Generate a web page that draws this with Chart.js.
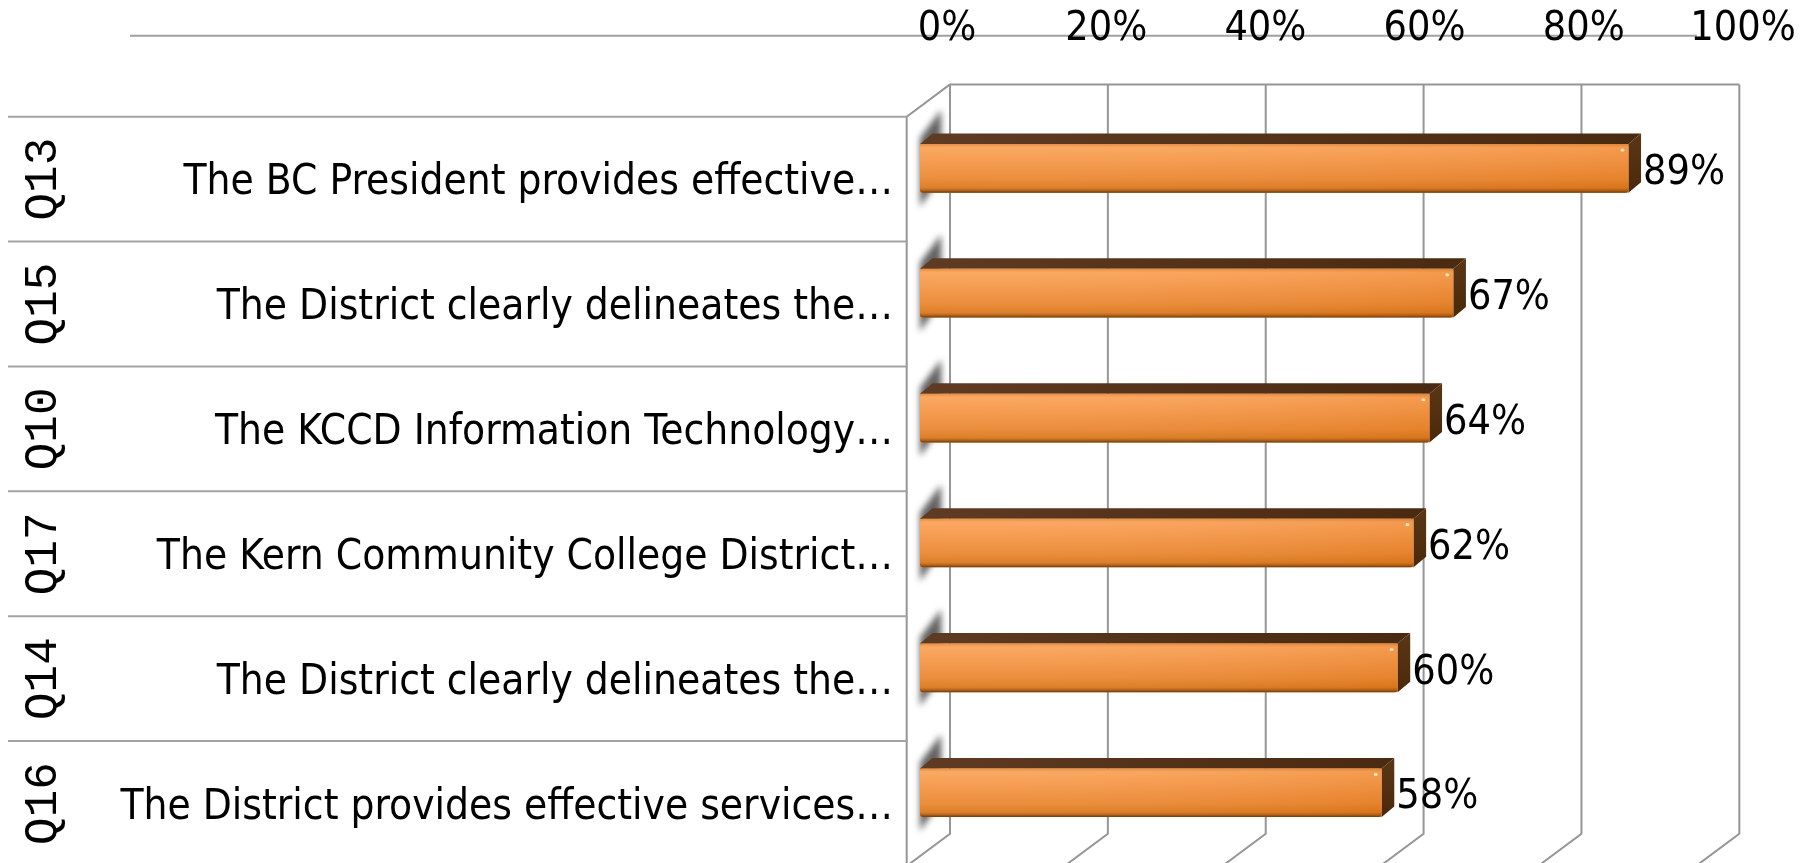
<!DOCTYPE html>
<html><head><meta charset="utf-8">
<script src="https://cdn.jsdelivr.net/npm/chart.js@4.4.1/dist/chart.umd.min.js"></script>
<style>html,body{margin:0;padding:0;background:#fff;} canvas{display:block;}</style>
</head><body>
<canvas id="c" width="1810" height="863"></canvas>
<script>
const codes = ['Q13', 'Q15', 'Q10', 'Q17', 'Q14', 'Q16'];
const categories = [
  'The BC President provides effective\u2026',
  'The District clearly delineates the\u2026',
  'The KCCD Information Technology\u2026',
  'The Kern Community College District\u2026',
  'The District clearly delineates the\u2026',
  'The District provides effective services\u2026'
];
const values = [89, 67, 64, 62, 60, 58];
const tickValues = [0, 20, 40, 60, 80, 100];

const SANS = '"DejaVu Sans Condensed", "DejaVu Sans", sans-serif';
const MONO = '"Liberation Mono", "DejaVu Sans Mono", monospace';
const GRID = '#969696';
const BAR_DX = 12.6, BAR_DY = -10.5;      // bar depth
const WALL_DX = 30, WALL_DY = -21.5;      // bar plane -> back wall
const FRONT_DX = -13.3, FRONT_DY = 10.8;  // bar plane -> front plane

function barGeom(el) {
  const p = el.getProps(['x', 'y', 'base', 'height'], true);
  return { base: p.base, right: p.x, top: p.y - p.height / 2, bottom: p.y + p.height / 2, cy: p.y };
}

const decor = {
  id: 'decor',
  beforeDraw(chart) {
    const { ctx, chartArea: a, scales: { x, y } } = chart;
    const backX = v => a.left + WALL_DX + (x.getPixelForValue(v) - a.left) * 0.9916;
    const backTop = a.top + WALL_DY, backBot = a.bottom + WALL_DY;
    const frontLeft = a.left + FRONT_DX, frontTop = a.top + FRONT_DY;
    ctx.save();
    ctx.fillStyle = '#fff'; ctx.fillRect(0, 0, chart.width, chart.height);
    // top axis line
    ctx.strokeStyle = '#a0a0a0'; ctx.lineWidth = 2;
    ctx.beginPath(); ctx.moveTo(130, 35.7); ctx.lineTo(1697, 35.7); ctx.stroke();
    // back wall + floor lines
    ctx.strokeStyle = GRID; ctx.lineWidth = 2;
    ctx.beginPath();
    ctx.moveTo(backX(0), backTop); ctx.lineTo(backX(100), backTop);
    tickValues.forEach(v => {
      const bx = backX(v);
      ctx.moveTo(bx, backTop); ctx.lineTo(bx, backBot);
      ctx.lineTo(bx - (WALL_DX - FRONT_DX), backBot + (FRONT_DY - WALL_DY));
    });
    // side wall
    ctx.moveTo(backX(0), backTop); ctx.lineTo(frontLeft, frontTop); ctx.lineTo(frontLeft, chart.height + 5);
    ctx.stroke();
    // row separators
    ctx.strokeStyle = '#a3a3a3';
    ctx.beginPath();
    for (let i = 0; i <= categories.length; i++) {
      const yy = y.getPixelForValue(i - 0.5) + FRONT_DY;
      ctx.moveTo(8, yy); ctx.lineTo(frontLeft, yy);
    }
    ctx.stroke();
    // outer category codes
    ctx.fillStyle = '#000'; ctx.font = '46px ' + MONO;
    ctx.textAlign = 'center'; ctx.textBaseline = 'middle';
    codes.forEach((c, i) => {
      const yy = y.getPixelForValue(i) + FRONT_DY;
      ctx.save(); ctx.translate(44, yy); ctx.rotate(-Math.PI / 2); ctx.fillText(c, 0, 0); ctx.restore();
    });
    ctx.restore();
  },
  beforeDatasetsDraw(chart) {
    const { ctx } = chart;
    const meta = chart.getDatasetMeta(0);
    ctx.save();
    ctx.filter = 'blur(3px)';
    ctx.fillStyle = 'rgba(70,70,70,0.85)';
    meta.data.forEach(el => {
      const g = barGeom(el);
      ctx.beginPath();
      ctx.moveTo(g.base + 0, g.top - 6);
      ctx.lineTo(g.base + 21, g.top - 34);
      ctx.lineTo(g.base + 22, g.bottom - 18);
      ctx.lineTo(g.base + 0, g.bottom + 14);
      ctx.closePath(); ctx.fill();
    });
    ctx.restore();
  },
  afterDatasetsDraw(chart) {
    const { ctx } = chart;
    const meta = chart.getDatasetMeta(0);
    ctx.save();
    meta.data.forEach((el, i) => {
      const g = barGeom(el);
      const h = g.bottom - g.top;
      // top face
      let tg = ctx.createLinearGradient(g.base, 0, g.right, 0);
      tg.addColorStop(0, '#5e3b22'); tg.addColorStop(1, '#4a2a10');
      ctx.fillStyle = tg;
      ctx.beginPath();
      ctx.moveTo(g.base, g.top); ctx.lineTo(g.base + BAR_DX, g.top + BAR_DY);
      ctx.lineTo(g.right + BAR_DX, g.top + BAR_DY); ctx.lineTo(g.right, g.top);
      ctx.closePath(); ctx.fill();
      // side face
      let sg = ctx.createLinearGradient(0, g.top + BAR_DY, 0, g.bottom);
      sg.addColorStop(0, '#5a3615'); sg.addColorStop(1, '#4a2a0c');
      ctx.fillStyle = sg;
      ctx.beginPath();
      ctx.moveTo(g.right, g.top); ctx.lineTo(g.right + BAR_DX, g.top + BAR_DY);
      ctx.lineTo(g.right + BAR_DX, g.bottom + BAR_DY); ctx.lineTo(g.right, g.bottom);
      ctx.closePath(); ctx.fill();
      // front face
      let fg = ctx.createLinearGradient(0, g.top, 0, g.bottom);
      fg.addColorStop(0, '#e48a3c');
      fg.addColorStop(0.07, '#fba55c');
      fg.addColorStop(0.35, '#f5994b');
      fg.addColorStop(0.72, '#ea8934');
      fg.addColorStop(0.9, '#da7a20');
      fg.addColorStop(0.96, '#a85a14');
      fg.addColorStop(1, '#6b3a10');
      ctx.fillStyle = fg;
      ctx.beginPath();
      ctx.roundRect(g.base, g.top, g.right - g.base, h, 3);
      ctx.fill();
      let hg = ctx.createLinearGradient(g.base, 0, g.right, 0);
      hg.addColorStop(0, 'rgba(255,255,255,0.04)');
      hg.addColorStop(1, 'rgba(200,90,0,0.14)');
      ctx.fillStyle = hg;
      ctx.beginPath();
      ctx.roundRect(g.base, g.top, g.right - g.base, h - 2, 3);
      ctx.fill();
      // specular highlight
      ctx.fillStyle = 'rgba(255,245,200,0.85)';
      ctx.beginPath(); ctx.ellipse(g.right - 6, g.top + 6, 2, 1.6, 0, 0, Math.PI * 2); ctx.fill();
      // value label
      ctx.fillStyle = '#000'; ctx.font = '41px ' + SANS;
      ctx.textAlign = 'left'; ctx.textBaseline = 'middle';
      ctx.fillText(values[i] + '%', g.right + BAR_DX + 2, g.cy + 5);
    });
    ctx.restore();
  }
};

new Chart(document.getElementById('c'), {
  type: 'bar',
  data: {
    labels: categories,
    datasets: [{
      data: values,
      backgroundColor: '#f0913a',
      borderWidth: 0,
      barPercentage: 0.39,
      categoryPercentage: 1
    }]
  },
  options: {
    indexAxis: 'y',
    responsive: false,
    animation: false,
    devicePixelRatio: 1,
    layout: { padding: { left: 0, top: 0, right: 94, bottom: 7.8 } },
    plugins: { legend: { display: false }, tooltip: { enabled: false } },
    scales: {
      x: {
        position: 'top', min: 0, max: 100,
        ticks: {
          stepSize: 20, callback: v => v + '%', labelOffset: 27, padding: 52,
          font: { size: 41, family: SANS }, color: '#000', maxRotation: 0, autoSkip: false
        },
        grid: { display: false, drawTicks: false },
        border: { display: false },
        afterFit: s => { s.height = 105.9; s.paddingTop = 0; s.paddingBottom = 0; s.paddingLeft = 0; s.paddingRight = 0; }
      },
      y: {
        ticks: {
          font: { size: 42, family: SANS }, color: '#000', padding: 27, labelOffset: 15, autoSkip: false
        },
        grid: { display: false, drawTicks: false },
        border: { display: false },
        afterFit: s => { s.width = 920; s.paddingTop = 0; s.paddingBottom = 0; s.paddingLeft = 0; s.paddingRight = 0; }
      }
    }
  },
  plugins: [decor]
});
</script>
</body></html>
